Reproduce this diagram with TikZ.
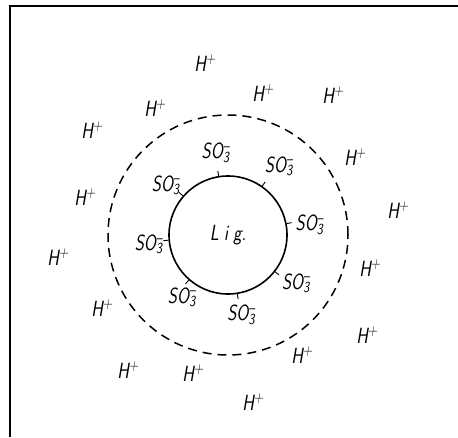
\documentclass[tikz,border=0pt]{standalone}
\usepackage{tikz}
\usepackage{graphicx}
\usetikzlibrary{positioning}

\newcommand{\narrow}[1]{\scalebox{0.8}[1]{#1}}
\newcommand{\sothree}{\narrow{SO\rlap{\textsubscript{3}}\textsuperscript{--}\kern0.1em}}
\newcommand{\hplus}{\narrow{H\textsuperscript{+}}}

\tikzset{
    ion/.style={font=\sffamily\slshape\fontsize{22}{24}\selectfont, inner sep=0pt},
    grain/.style={circle,draw,line width=1.6pt,minimum size=118pt,inner sep=0pt,
        font=\sffamily\slshape\fontsize{22}{24}\selectfont},
    layer/.style={circle,draw,dash pattern=on 9pt off 6pt,line width=1.5pt,minimum size=240pt,inner sep=0pt},
}

\begin{document}
\begin{tikzpicture}[x=1pt,y=1pt]
    \useasboundingbox (0,0) rectangle (458,-437);
    \draw[line width=1.5pt] (10,-437) -- (10,-6) coordinate (corner) -- (458,-6);

    \node[grain] (lig) at (228,-235) {\narrow{L\kern0.3em i\kern0.3em g.}};
    \node[layer] (layer) at (228,-235) {};

    % sulfonate groups on the surface
    \foreach \t/\a/\r [count=\i] in {99/98/83, 55/53/86, 11/7/83, -38/-35/84,
                                     -81/-80/81, -131/-126/77, -175/-173/79, 139/141/79} {
        \draw[line width=0.9pt] (lig.\t) -- ++(\t:5);
        \node[ion] (so\i) at ([shift={(\a:\r)}]lig.center) {\sothree};
    }

    % counter ions
    \foreach \x/\y [count=\i] in {205/63, 263/93, 333/95, 155/108, 92/130, 355/157,
                                  85/197, 398/210, 58/257, 370/268, 102/308, 367/335,
                                  302/355, 128/370, 193/373, 253/402} {
        \node[ion] (h\i) at (\x,-\y) {\hplus};
    }
\end{tikzpicture}
\end{document}
